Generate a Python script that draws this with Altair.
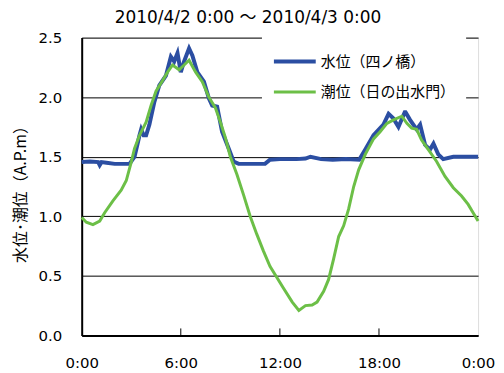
import altair as alt
import pandas as pd

# ---- data (hours since 2010/4/2 0:00, metres A.P.) ----
series_names = ["水位（四ノ橋）", "潮位（日の出水門）"]
series_colors = ["#2B4EA2", "#6CBF47"]

blue_hours = [0.0, 0.5, 1.0, 1.09, 1.2, 1.5, 2.0, 2.5, 2.9, 3.2, 3.4, 3.5, 3.6, 3.75,
              3.9, 4.1, 4.4, 4.7, 5.1, 5.4, 5.6, 5.8, 6.0, 6.2, 6.5, 6.7, 7.0, 7.4,
              7.7, 7.9, 8.2, 8.5, 8.9, 9.2, 9.5, 10.0, 10.5, 11.1, 11.4, 12.0, 12.2,
              13.0, 13.55, 13.85, 14.5, 15.2, 16.0, 16.8, 17.17, 17.67, 18.07, 18.27,
              18.58, 18.88, 19.18, 19.58, 19.88, 20.28, 20.49, 20.79, 21.09, 21.3,
              21.59, 21.89, 22.5, 24.0]
blue_values = [1.455, 1.46, 1.455, 1.43, 1.455, 1.45, 1.44, 1.44, 1.44, 1.50, 1.62, 1.68,
               1.73, 1.68, 1.68, 1.77, 1.96, 2.10, 2.18, 2.34, 2.30, 2.37, 2.21, 2.30,
               2.41, 2.35, 2.21, 2.13, 1.99, 1.93, 1.92, 1.71, 1.57, 1.46, 1.44, 1.44,
               1.44, 1.44, 1.475, 1.48, 1.48, 1.48, 1.485, 1.50, 1.48, 1.475, 1.48,
               1.475, 1.56, 1.68, 1.74, 1.77, 1.86, 1.82, 1.75, 1.88, 1.81, 1.73, 1.77,
               1.60, 1.56, 1.61, 1.52, 1.48, 1.50, 1.50]

green_hours = [0.0, 0.28, 0.68, 1.09, 1.39, 1.89, 2.39, 2.7, 3.0, 3.2, 3.5, 3.9, 4.2,
               4.5, 4.9, 5.2, 5.5, 5.9, 6.2, 6.5, 6.9, 7.3, 7.7, 8.1, 8.4, 8.7, 9.0,
               9.4, 9.8, 10.2, 10.6, 11.0, 11.4, 11.8, 12.2, 12.75, 13.15, 13.55,
               13.95, 14.25, 14.65, 14.95, 15.25, 15.56, 15.86, 16.16, 16.47, 16.77,
               17.17, 17.67, 18.07, 18.48, 18.88, 19.38, 19.69, 19.98, 20.28, 20.58,
               20.99, 21.49, 22.0, 22.5, 23.0, 23.4, 23.7, 24.0]
green_values = [0.99, 0.95, 0.93, 0.96, 1.03, 1.13, 1.22, 1.30, 1.455, 1.57, 1.68, 1.79,
                1.93, 2.05, 2.14, 2.21, 2.27, 2.23, 2.27, 2.31, 2.21, 2.13, 2.00, 1.91,
                1.79, 1.66, 1.50, 1.35, 1.18, 1.00, 0.85, 0.71, 0.58, 0.49, 0.40, 0.28,
                0.21, 0.25, 0.255, 0.28, 0.37, 0.47, 0.64, 0.83, 0.92, 1.06, 1.25, 1.39,
                1.52, 1.65, 1.71, 1.78, 1.81, 1.84, 1.78, 1.74, 1.73, 1.64, 1.56, 1.46,
                1.335, 1.24, 1.17, 1.10, 1.03, 0.96]

x_ticks = [0, 6, 12, 18, 24]
y_ticks = [0.0, 0.5, 1.0, 1.5, 2.0, 2.5]

title_text = "2010/4/2 0:00 ～ 2010/4/3 0:00"
y_title = "水位･潮位（A.P.m）"

df = pd.concat([
    pd.DataFrame({"h": blue_hours, "v": blue_values, "s": series_names[0], "o": 0}),
    pd.DataFrame({"h": green_hours, "v": green_values, "s": series_names[1], "o": 1}),
])
ticks_df = pd.DataFrame({"t": x_ticks[1:-1]})

FONT = "DejaVu Sans, Noto Sans CJK JP"
W, H = 398, 299

xscale = alt.Scale(domain=[0, 24], nice=False)
yscale = alt.Scale(domain=[0, 2.5], nice=False)

lines = alt.Chart(df).mark_line(interpolate="linear").encode(
    x=alt.X("h:Q", scale=xscale,
            axis=alt.Axis(values=x_ticks, labelExpr="(datum.value % 24) + ':00'",
                          title=None, grid=False, ticks=False, labelPadding=20,
                          labelFlush=False, labelFont=FONT, labelFontSize=15,
                          labelColor="black", domainColor="black", domainWidth=2)),
    y=alt.Y("v:Q", scale=yscale,
            axis=alt.Axis(values=y_ticks, format=".1f", title=y_title,
                          grid=True, gridColor="black", gridWidth=1, ticks=False,
                          labelPadding=20, labelFont=FONT, labelFontSize=15,
                          labelColor="black", domainColor="black", domainWidth=2,
                          titleFont="Noto Sans CJK JP", titleFontSize=16,
                          titleFontWeight="normal", titleColor="black",
                          titleX=-61, titleY=153, titleAlign="center",
                          titleBaseline="middle", titleAngle=270)),
    color=alt.Color("s:N", scale=alt.Scale(domain=series_names, range=series_colors),
                    legend=alt.Legend(title=None, orient="none", legendX=181, legendY=-9,
                                      symbolType="stroke", symbolSize=1764,
                                      symbolStrokeWidth=4, labelFont="Noto Sans CJK JP",
                                      labelFontSize=15, labelColor="black",
                                      labelOffset=3, fillColor="white", padding=10,
                                      rowPadding=-1)),
    strokeWidth=alt.StrokeWidth("s:N", scale=alt.Scale(domain=series_names, range=[4, 3]),
                                legend=None),
    order=alt.Order("o:Q"),
)

inner_ticks = alt.Chart(ticks_df).mark_rule(color="black", strokeWidth=1).encode(
    x=alt.X("t:Q", scale=xscale),
    y=alt.value(H - 7),
    y2=alt.value(H),
)

chart = alt.layer(lines, inner_ticks).properties(
    width=W, height=H,
    title=alt.TitleParams(title_text, font=FONT, fontSize=17, fontWeight="normal",
                          color="black", anchor="middle", dx=-32, offset=2),
    padding={"left": 74, "top": 29, "right": 18, "bottom": 36},
    autosize=alt.AutoSizeParams(type="none"),
).configure_view(stroke="#555555", strokeWidth=1).configure(background="white")

chart.save("out.html", embed_options={"renderer": "svg", "actions": False})
